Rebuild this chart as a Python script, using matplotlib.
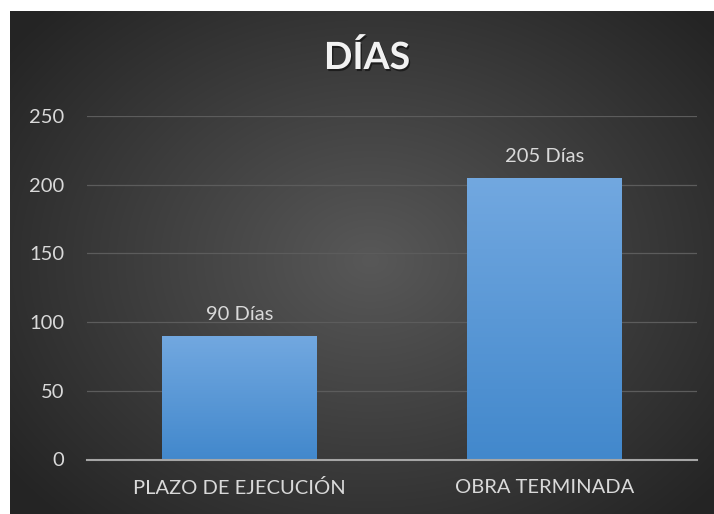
import matplotlib
matplotlib.use('Agg')
import matplotlib.pyplot as plt
import matplotlib.patheffects as pe
import numpy as np

categories = ['PLAZO DE EJECUCIÓN', 'OBRA TERMINADA']
days = [90, 205]
labels = ['90 Días', '205 Días']
yticks = [0, 50, 100, 150, 200, 250]

TEXT = '#d9d9d9'
FONT = ['Lato', 'DejaVu Sans']
W, H = 714, 514

fig = plt.figure(figsize=(W / 100, H / 100), dpi=100)
fig.patch.set_facecolor('white')

# dark radial background, white margin on the top and left like the original
yy, xx = np.mgrid[0:H, 0:W]
cx, cy = 370, 260
r = np.sqrt(((xx - cx) / 420) ** 2 + ((yy - cy) / 330) ** 2)
shade = np.clip(88 - 48 * r, 36, 90) / 255.0
shade[(xx < 10) | (yy < 11)] = 1.0
fig.figimage(np.dstack([shade, shade, shade]), xo=0, yo=0, origin='upper', zorder=-1)

ax = fig.add_axes([87 / W, 1 - 459.5 / H, 610 / W, 343.5 / H])
ax.set_facecolor('none')
x = np.arange(len(categories))
bars = ax.bar(x, days, width=0.506, color='#5b9bd5', zorder=3)

grad = np.linspace(0, 1, 256)
top = np.array([114, 168, 224]) / 255.0
bottom = np.array([66, 136, 204]) / 255.0
for b in bars:
    b.set_facecolor('none')
    img = (top * (1 - grad[:, None]) + bottom * grad[:, None]).reshape(256, 1, 3)
    x0, y0 = b.get_x(), b.get_y()
    im = ax.imshow(img, aspect='auto',
                   extent=(x0, x0 + b.get_width(), y0, y0 + b.get_height()),
                   zorder=3, interpolation='bilinear')
    im.set_clip_path(b)

for b, lab in zip(bars, labels):
    ax.annotate(lab, (b.get_x() + b.get_width() / 2, b.get_height()),
                xytext=(0, 11.5), textcoords='offset points',
                ha='center', va='baseline', color=TEXT, fontsize=14.5, family=FONT)

ax.set_xlim(-0.5, 1.5)
ax.set_ylim(0, 250)
ax.set_yticks(yticks)
ax.set_yticklabels([str(t) for t in yticks], color=TEXT, fontsize=14.5, family=FONT)
ax.set_xticks(x)
ax.set_xticklabels(categories, color=TEXT, fontsize=14.5, family=FONT)
ax.tick_params(length=0)
ax.tick_params(axis='x', pad=14)
ax.tick_params(axis='y', pad=16.5)
ax.grid(axis='y', color='#5c5c5c', linewidth=0.9, zorder=0)
for s in ['top', 'right', 'left']:
    ax.spines[s].set_visible(False)
ax.spines['bottom'].set_color('#a6a6a6')
ax.spines['bottom'].set_linewidth(1.5)
ax.spines['bottom'].set_zorder(4)

fig.text(367 / W, 1 - 69 / H, 'DÍAS', ha='center', va='baseline',
         color='#f2f2f2', fontsize=27, fontweight='bold', family=FONT,
         path_effects=[pe.withSimplePatchShadow(offset=(1, -1.5), shadow_rgbFace='black', alpha=0.5)])

fig.savefig('out.png', dpi=100, facecolor=fig.get_facecolor())
